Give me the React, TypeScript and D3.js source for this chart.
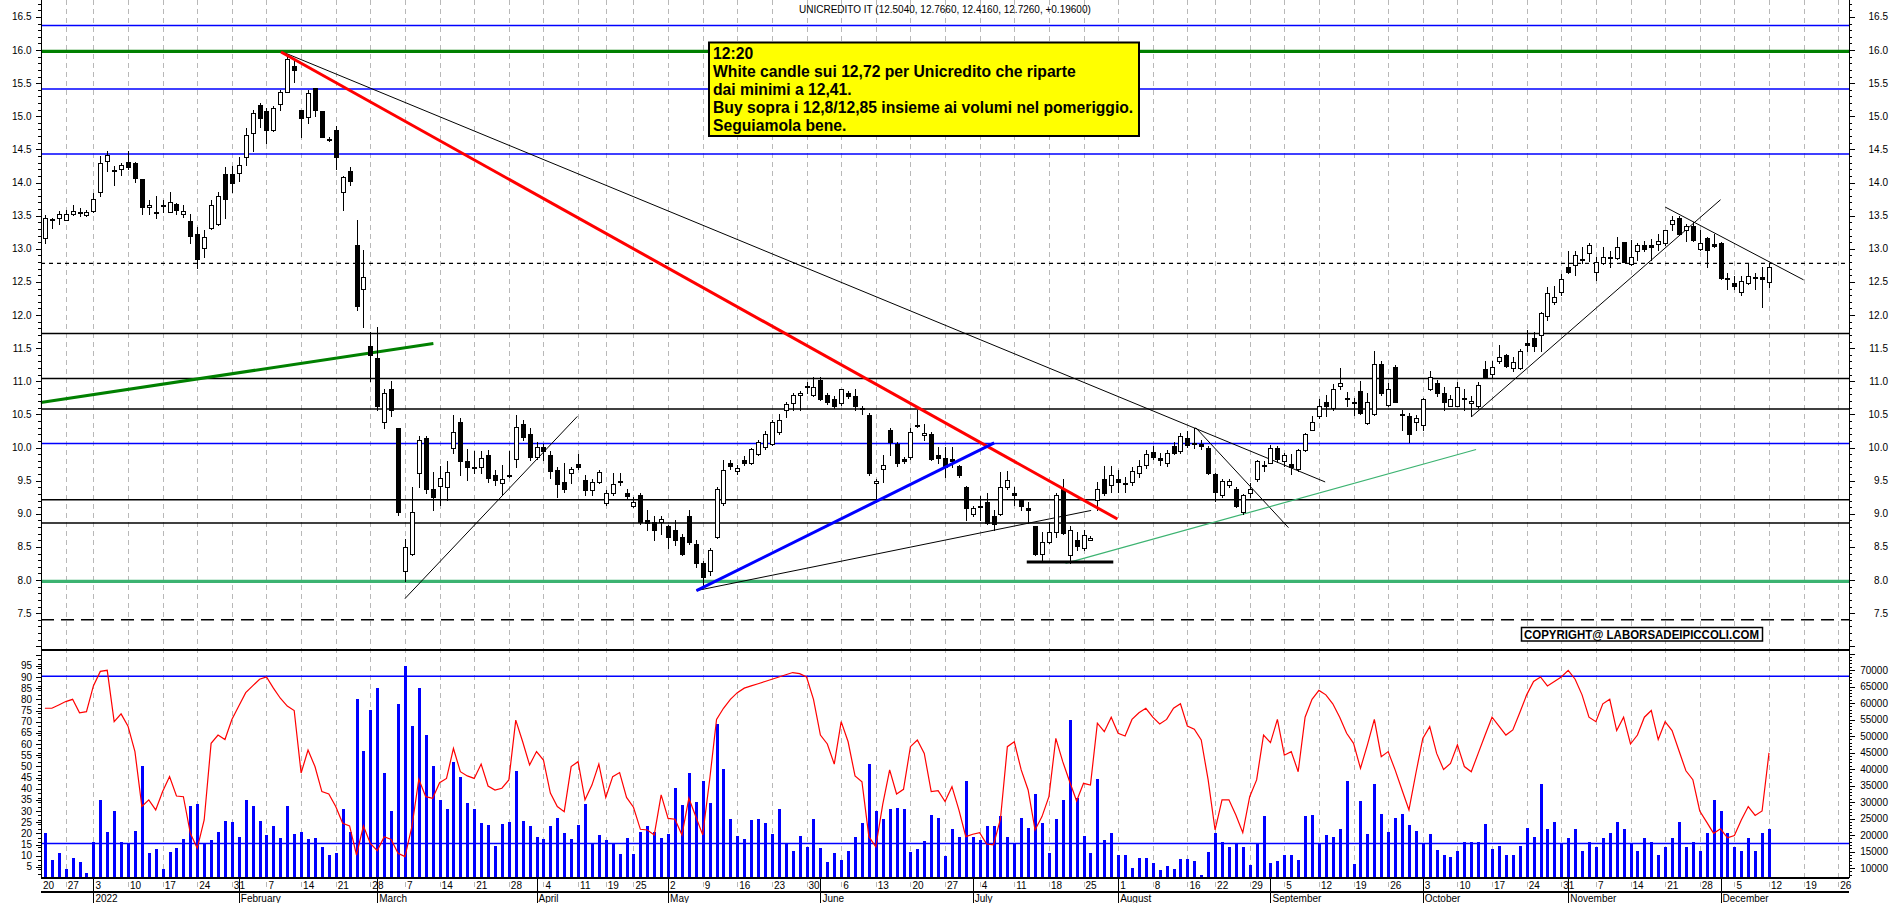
import React, { useEffect, useRef } from 'react'
import * as d3 from 'd3'

const title = 'UNICREDITO IT (12.5040, 12.7660, 12.4160, 12.7260, +0.19600)'
const noteLines = [
    '12:20',
    'White candle sui 12,72 per Unicredito che riparte',
    'dai minimi a 12,41.',
    'Buy sopra i 12,8/12,85 insieme ai volumi nel pomeriggio.',
    'Seguiamola bene.',
]
const copyright = 'COPYRIGHT@ LABORSADEIPICCOLI.COM'

// trading calendar (Borsa Italiana)
const calendarFrom = '2021-12-20'
const calendarTo = '2022-12-30'
const dataFrom = '2021-12-21'
const holidays = ['2021-12-24', '2021-12-31', '2022-04-15', '2022-04-18', '2022-08-15']

// daily candles from 2021-12-21 to 2022-12-12: open, high, low, close
const ohlc: [number, number, number, number][] = [
    [13.16, 13.51, 13.09, 13.46], [13.44, 13.47, 13.31, 13.45], [13.46, 13.57, 13.38, 13.52], [13.44, 13.59, 13.43, 13.53], [13.53, 13.66, 13.51, 13.57],
    [13.55, 13.62, 13.50, 13.56], [13.51, 13.59, 13.50, 13.55], [13.57, 13.84, 13.56, 13.75], [13.86, 14.40, 13.79, 14.29], [14.32, 14.48, 14.18, 14.42],
    [14.18, 14.25, 13.96, 14.19], [14.20, 14.30, 14.11, 14.27], [14.31, 14.47, 14.21, 14.24], [14.29, 14.31, 14.01, 14.07], [14.05, 14.06, 13.53, 13.63],
    [13.63, 13.73, 13.53, 13.66], [13.55, 13.79, 13.47, 13.56], [13.65, 13.73, 13.56, 13.66], [13.56, 13.85, 13.55, 13.71], [13.68, 13.69, 13.53, 13.59],
    [13.53, 13.66, 13.48, 13.57], [13.42, 13.53, 13.08, 13.20], [13.23, 13.33, 12.71, 12.85], [13.01, 13.29, 12.88, 13.18], [13.31, 13.74, 13.30, 13.66],
    [13.38, 13.86, 13.36, 13.80], [14.13, 14.24, 13.47, 13.75], [14.13, 14.25, 13.85, 14.00], [14.14, 14.39, 14.03, 14.26], [14.38, 14.82, 14.26, 14.72],
    [14.75, 15.09, 14.47, 15.05], [15.17, 15.20, 14.84, 14.98], [15.08, 15.12, 14.60, 14.79], [14.79, 15.16, 14.78, 15.13], [15.18, 15.40, 15.10, 15.37],
    [15.37, 15.92, 15.36, 15.86], [15.76, 15.87, 15.51, 15.70], [15.09, 15.10, 14.69, 14.97], [14.99, 15.40, 14.90, 15.35], [15.42, 15.43, 15.00, 15.10],
    [15.08, 15.08, 14.68, 14.69], [14.64, 14.69, 14.62, 14.65], [14.79, 14.85, 14.20, 14.38], [13.86, 14.10, 13.58, 14.08], [14.17, 14.24, 13.96, 14.03],
    [13.06, 13.44, 12.08, 12.13], [12.40, 12.98, 11.82, 12.58], [11.53, 11.75, 11.00, 11.40], [11.35, 11.82, 10.57, 10.62], [10.38, 10.89, 10.29, 10.83],
    [10.89, 11.00, 10.47, 10.56], [10.29, 10.30, 8.98, 9.02], [8.14, 8.62, 7.98, 8.50], [8.40, 9.41, 8.38, 9.02], [9.61, 10.17, 9.41, 10.12],
    [10.14, 10.18, 9.31, 9.38], [9.38, 9.63, 9.06, 9.25], [9.42, 9.72, 9.13, 9.54], [9.41, 9.79, 9.21, 9.63], [9.99, 10.49, 9.91, 10.24],
    [10.38, 10.44, 9.59, 9.79], [9.79, 9.97, 9.51, 9.71], [9.69, 9.94, 9.61, 9.70], [9.71, 9.94, 9.61, 9.84], [9.89, 9.96, 9.48, 9.54],
    [9.59, 9.66, 9.43, 9.51], [9.47, 9.73, 9.28, 9.52], [9.58, 9.95, 9.55, 9.59], [9.82, 10.49, 9.70, 10.31], [10.35, 10.42, 10.11, 10.16],
    [10.20, 10.29, 9.81, 9.86], [9.86, 10.09, 9.82, 10.01], [10.01, 10.06, 9.81, 9.95], [9.89, 9.94, 9.54, 9.65], [9.66, 9.71, 9.26, 9.45],
    [9.48, 9.76, 9.33, 9.38], [9.61, 9.71, 9.46, 9.68], [9.75, 9.90, 9.67, 9.71], [9.51, 9.59, 9.28, 9.36], [9.36, 9.53, 9.28, 9.48],
    [9.48, 9.66, 9.46, 9.63], [9.16, 9.36, 9.13, 9.31], [9.31, 9.61, 9.28, 9.45], [9.48, 9.61, 9.43, 9.49], [9.32, 9.38, 9.23, 9.27],
    [9.12, 9.26, 9.10, 9.18], [9.28, 9.31, 8.85, 8.87], [8.91, 9.06, 8.75, 8.86], [8.88, 8.96, 8.61, 8.75], [8.87, 8.97, 8.69, 8.92],
    [8.82, 8.83, 8.48, 8.65], [8.75, 8.91, 8.53, 8.60], [8.65, 8.70, 8.38, 8.40], [8.97, 9.06, 8.55, 8.58], [8.54, 8.61, 8.20, 8.25],
    [8.26, 8.28, 7.88, 8.04], [8.13, 8.48, 8.08, 8.46], [8.65, 9.41, 8.64, 9.38], [9.16, 9.81, 9.13, 9.66], [9.77, 9.81, 9.68, 9.72],
    [9.65, 9.74, 9.60, 9.69], [9.81, 9.87, 9.74, 9.77], [9.77, 10.00, 9.75, 9.97], [9.90, 10.12, 9.88, 10.09], [10.01, 10.25, 9.98, 10.21],
    [10.06, 10.41, 10.04, 10.38], [10.24, 10.50, 10.20, 10.42], [10.57, 10.69, 10.46, 10.66], [10.67, 10.82, 10.57, 10.79], [10.79, 10.86, 10.57, 10.82],
    [10.93, 10.99, 10.82, 10.92], [10.79, 11.07, 10.78, 10.91], [11.02, 11.06, 10.72, 10.73], [10.79, 10.82, 10.66, 10.69], [10.73, 10.77, 10.59, 10.62],
    [10.67, 10.89, 10.64, 10.88], [10.82, 10.85, 10.74, 10.78], [10.78, 10.89, 10.57, 10.62], [10.60, 10.62, 10.51, 10.58], [10.49, 10.52, 9.59, 9.61],
    [9.46, 9.52, 9.18, 9.50], [9.67, 9.89, 9.48, 9.73], [10.27, 10.29, 9.89, 10.09], [10.06, 10.09, 9.72, 9.77], [9.82, 9.86, 9.76, 9.80],
    [9.86, 10.29, 9.82, 10.24], [10.34, 10.57, 10.31, 10.33], [10.19, 10.36, 10.11, 10.22], [10.20, 10.23, 9.81, 9.82], [9.89, 10.01, 9.76, 9.84],
    [9.84, 10.01, 9.56, 9.71], [9.82, 10.01, 9.71, 9.79], [9.72, 9.73, 9.56, 9.58], [9.41, 9.42, 8.90, 9.08], [8.99, 9.12, 8.96, 9.08],
    [9.12, 9.27, 8.90, 9.11], [9.17, 9.31, 8.84, 8.86], [8.97, 9.06, 8.76, 8.85], [9.00, 9.63, 8.98, 9.41], [9.41, 9.65, 9.38, 9.51],
    [9.31, 9.41, 9.13, 9.28], [9.22, 9.23, 9.06, 9.11], [9.08, 9.18, 8.86, 9.06], [8.81, 8.81, 8.38, 8.40], [8.40, 8.72, 8.28, 8.58],
    [8.58, 8.87, 8.56, 8.73], [8.73, 9.31, 8.65, 9.28], [9.37, 9.53, 8.70, 8.71], [8.38, 8.81, 8.26, 8.75], [8.61, 8.73, 8.45, 8.51],
    [8.48, 8.75, 8.45, 8.68], [8.61, 8.66, 8.60, 8.64], [9.21, 9.48, 9.06, 9.38], [9.52, 9.72, 9.28, 9.31], [9.43, 9.72, 9.33, 9.58],
    [9.52, 9.66, 9.33, 9.48], [9.45, 9.56, 9.33, 9.46], [9.48, 9.71, 9.43, 9.64], [9.62, 9.81, 9.56, 9.72], [9.73, 9.96, 9.69, 9.90],
    [9.93, 10.02, 9.82, 9.86], [9.84, 9.91, 9.74, 9.81], [9.76, 9.96, 9.72, 9.92], [10.02, 10.09, 9.90, 9.92], [9.94, 10.22, 9.92, 10.17],
    [10.15, 10.25, 10.01, 10.04], [10.07, 10.30, 10.00, 10.05], [10.06, 10.12, 9.98, 10.02], [10.00, 10.02, 9.60, 9.62], [9.60, 9.62, 9.20, 9.33],
    [9.28, 9.53, 9.25, 9.50], [9.43, 9.52, 9.40, 9.49], [9.37, 9.41, 9.10, 9.12], [9.03, 9.30, 9.00, 9.28], [9.31, 9.46, 9.25, 9.38],
    [9.52, 9.81, 9.49, 9.80], [9.72, 9.79, 9.65, 9.73], [9.77, 10.04, 9.76, 9.99], [9.99, 10.02, 9.78, 9.82], [9.80, 9.92, 9.72, 9.88],
    [9.75, 9.90, 9.60, 9.70], [9.68, 9.98, 9.65, 9.96], [9.96, 10.22, 9.94, 10.20], [10.27, 10.47, 10.26, 10.39], [10.47, 10.73, 10.45, 10.62],
    [10.68, 10.79, 10.47, 10.62], [10.59, 10.96, 10.57, 10.88], [10.93, 11.20, 10.88, 10.97], [10.75, 10.84, 10.63, 10.73], [10.67, 10.74, 10.49, 10.68],
    [10.85, 11.01, 10.51, 10.52], [10.37, 10.82, 10.36, 10.68], [10.50, 11.46, 10.49, 11.26], [11.26, 11.31, 10.79, 10.82], [10.64, 10.97, 10.62, 10.88],
    [11.22, 11.25, 10.68, 10.69], [10.49, 10.57, 10.26, 10.50], [10.47, 10.52, 10.09, 10.21], [10.39, 10.49, 10.26, 10.45], [10.34, 10.74, 10.27, 10.73],
    [10.88, 11.15, 10.87, 11.07], [10.97, 11.02, 10.77, 10.83], [10.83, 10.91, 10.57, 10.68], [10.63, 10.79, 10.62, 10.73], [10.63, 10.99, 10.62, 10.91],
    [10.75, 10.89, 10.57, 10.73], [10.67, 10.77, 10.48, 10.70], [10.63, 10.99, 10.59, 10.94], [11.18, 11.30, 11.05, 11.06], [11.11, 11.30, 11.07, 11.21],
    [11.30, 11.55, 11.27, 11.36], [11.39, 11.41, 11.22, 11.23], [11.20, 11.37, 11.15, 11.29], [11.20, 11.48, 11.18, 11.46], [11.57, 11.77, 11.45, 11.55],
    [11.65, 11.75, 11.45, 11.53], [11.70, 12.05, 11.45, 12.03], [11.98, 12.43, 11.92, 12.33], [12.20, 12.44, 12.17, 12.27], [12.34, 12.62, 12.30, 12.55],
    [12.73, 12.97, 12.64, 12.65], [12.76, 12.97, 12.60, 12.90], [12.83, 13.02, 12.78, 12.84], [12.93, 13.09, 12.82, 13.05], [12.65, 12.88, 12.53, 12.80],
    [12.78, 13.02, 12.77, 12.88], [12.86, 12.97, 12.73, 12.87], [12.86, 13.17, 12.84, 13.03], [13.10, 13.10, 12.80, 12.80], [12.77, 13.13, 12.76, 12.88],
    [12.97, 13.09, 12.83, 13.06], [13.05, 13.12, 12.97, 13.00], [13.06, 13.14, 12.83, 13.03], [13.07, 13.22, 12.98, 13.11], [13.09, 13.29, 13.06, 13.28],
    [13.37, 13.49, 13.28, 13.44], [13.46, 13.49, 13.22, 13.23], [13.28, 13.37, 13.12, 13.34], [13.34, 13.41, 13.12, 13.13], [13.00, 13.28, 12.98, 13.09],
    [13.16, 13.17, 12.73, 12.98], [13.07, 13.23, 13.03, 13.04], [13.08, 13.10, 12.54, 12.56], [12.56, 12.63, 12.40, 12.54], [12.48, 12.59, 12.40, 12.44],
    [12.35, 12.59, 12.30, 12.51], [12.48, 12.78, 12.47, 12.59], [12.57, 12.64, 12.40, 12.58], [12.57, 12.73, 12.12, 12.54], [12.504, 12.766, 12.416, 12.726],
]

// daily volume, thousands of shares
const volumes = [
    20.5, 12.4, 14.4, 9.7, 13.1, 11.7, 8.4, 17.8, 30.7, 20.9,
    27.3, 17.8, 17.5, 21.2, 40.9, 14.4, 15.8, 9.7, 14.8, 16.1,
    18.8, 28.7, 29.3, 17.5, 18.5, 20.9, 24.3, 23.9, 19.5, 30.7,
    28.7, 24.3, 19.9, 22.6, 19.2, 28.7, 20.2, 20.9, 18.8, 19.2,
    16.5, 13.8, 14.4, 28.0, 20.9, 61.2, 45.6, 57.8, 64.5, 38.8,
    27.3, 59.8, 71.3, 53.0, 64.5, 50.3, 40.9, 30.7, 28.0, 42.2,
    37.5, 29.7, 28.0, 23.6, 22.9, 16.8, 23.2, 23.9, 39.5, 24.3,
    22.6, 19.5, 18.8, 22.6, 25.3, 20.5, 18.8, 22.9, 29.3, 17.5,
    19.9, 18.5, 17.5, 14.1, 19.2, 14.1, 20.9, 22.6, 20.9, 19.2,
    20.2, 34.1, 29.0, 38.8, 30.0, 36.3, 29.7, 53.6, 39.9, 24.8,
    19.7, 18.9, 24.5, 24.8, 23.6, 20.2, 27.9, 17.4, 15.3, 19.7,
    16.4, 24.8, 16.1, 11.7, 14.4, 12.3, 15.3, 19.4, 23.6, 41.5,
    27.4, 24.8, 27.9, 28.2, 27.9, 14.8, 15.9, 18.2, 26.2, 25.1,
    13.6, 21.8, 19.5, 36.3, 19.4, 18.5, 22.6, 22.8, 25.7, 19.4,
    17.6, 25.1, 22.1, 32.3, 23.6, 14.6, 25.0, 30.5, 54.8, 31.2,
    19.7, 14.6, 37.1, 18.4, 20.7, 13.8, 13.8, 10.0, 13.0, 13.0,
    11.5, 9.4, 10.5, 9.8, 12.8, 12.6, 12.0, 7.9, 14.8, 20.7,
    18.0, 16.4, 17.6, 16.4, 11.0, 17.6, 25.9, 11.5, 12.0, 14.0,
    13.8, 12.3, 25.9, 26.1, 17.6, 19.9, 19.5, 21.8, 36.3, 11.3,
    30.2, 20.2, 35.6, 26.4, 20.9, 25.3, 26.4, 23.0, 21.2, 17.6,
    20.4, 15.6, 13.8, 13.4, 15.1, 18.0, 18.0, 18.0, 23.3, 15.9,
    16.6, 14.0, 14.0, 16.8, 22.0, 19.4, 35.4, 21.9, 23.9, 17.2,
    19.2, 21.9, 15.1, 17.8, 16.5, 19.2, 20.5, 23.9, 21.9, 17.2,
    15.1, 19.2, 17.8, 13.8, 16.5, 19.2, 23.9, 16.5, 17.8, 15.1,
    20.5, 30.7, 27.3, 20.5, 16.5, 15.1, 19.2, 15.1, 20.5, 21.9,
]

// oscillator (left scale of the lower panel)
const oscillator = [
    76, 76, 77.5, 79, 80, 74, 74.5, 86, 92.5, 93,
    70, 73.5, 68, 56.6, 32, 35, 30.5, 38.7, 45.4, 36.7,
    36.4, 20, 13.3, 26, 60.3, 64, 62, 71, 77, 83,
    86, 89, 90, 85, 80.5, 77, 75, 47, 57.3, 49.9,
    38.7, 37.6, 32, 24.5, 23.3, 10.3, 23.3, 15.5, 12.2, 18.5,
    17.3, 11.1, 9.6, 23, 44.2, 36.4, 35.7, 42.7, 44.6, 58,
    47.6, 45.7, 44.6, 51, 41.2, 39.4, 40.2, 43.9, 70.7, 61,
    50.6, 56.6, 52.8, 38, 32, 29.7, 49.9, 52.1, 35, 41.6,
    51, 36.1, 45.4, 47.2, 36.1, 31.7, 21.8, 21.5, 19.3, 37.2,
    26.7, 26.3, 19.3, 35.7, 27.5, 19.3, 43.9, 71, 76, 80,
    83, 85, 86, 87, 88, 89, 90, 91, 92, 91.5,
    90, 80, 64, 60, 51, 70, 61, 45.7, 43.1, 18.5,
    14, 33, 48.4, 37.6, 39.7, 58.8, 61.8, 55.8, 38.7, 39.1,
    34.2, 40.9, 30.5, 18.5, 19.6, 20.3, 15.2, 14.8, 26.3, 58.8,
    61, 48.4, 39.4, 21.5, 27.5, 36.4, 62.5, 52.1, 43.1, 34.5,
    42.4, 41.6, 69.3, 65.5, 72, 64.8, 63.6, 71, 74, 76,
    72, 69, 71, 76, 78, 68, 66.6, 61.8, 43.9, 21.5,
    35, 35, 28.2, 20.3, 36.4, 43.9, 64, 60.6, 71, 55,
    56.6, 47.6, 72, 80, 84, 82, 78, 72, 64.8, 60.3,
    49.1, 59.6, 71, 54.3, 56.6, 48.4, 39.4, 30.5, 46.9, 62.5,
    67.8, 55.8, 48.6, 51.3, 59.6, 49.9, 47.6, 55.8, 64, 72,
    68, 64, 66.3, 74, 82, 88, 90, 86, 88, 90,
    93, 89, 82, 72, 70, 78, 80, 66, 72, 60,
    64, 72, 75, 62, 70, 66, 57, 48, 44, 30,
    25, 20, 22, 18, 19, 26, 32, 28, 30, 56,
]

// horizontal levels
const blueLevels = [16.37, 15.41, 14.43, 10.06]
const greenLevel = 15.98
const blackLevels = [11.72, 11.04, 10.58, 9.21, 8.86]
const supportLevel = 7.98
const dottedLevel = 12.78
const dashedLevel = 7.40
const oscLevels = [90.3, 15.5]

// trend lines: [day index, price, day index, price]
type Seg = [number, number, number, number]
const redTrend: Seg[] = [[35.1, 15.97, 155.9, 8.92]]
const greenTrend: Seg[] = [[0.4, 10.68, 57.1, 11.57]]
const blueTrend: Seg[] = [[95.1, 7.84, 138.1, 10.07]]
const lightGreenTrend: Seg[] = [[148.4, 8.25, 207.7, 9.97]]
const baseTrend: Seg[] = [[142.8, 8.27, 155.3, 8.27]]
const thinTrend: Seg[] = [
    [35.8, 15.95, 185.9, 9.48],
    [53.0, 7.72, 77.9, 10.47],
    [95.1, 7.84, 152.1, 9.05],
    [167.2, 10.30, 180.6, 8.79],
    [207.1, 10.47, 243.0, 13.74],
    [235.0, 13.63, 255.0, 12.53],
]

const priceTicks = [7.5, 8, 8.5, 9, 9.5, 10, 10.5, 11, 11.5, 12, 12.5, 13, 13.5, 14, 14.5, 15, 15.5, 16, 16.5]
const oscTicks = [5, 10, 15, 20, 25, 30, 35, 40, 45, 50, 55, 60, 65, 70, 75, 80, 85, 90, 95]
const volTicks = [10, 15, 20, 25, 30, 35, 40, 45, 50, 55, 60, 65, 70]

const font = 'Liberation Sans, Arial, Helvetica, sans-serif'

function draw(el: SVGSVGElement) {
    const svg = d3.select(el)
    svg.selectAll('*').remove()

    const left = 41, right = 1849, panelSplit = 650, bottom = 878, rowLine = 892

    const parse = d3.timeParse('%Y-%m-%d')
    const fmt = d3.timeFormat('%Y-%m-%d')
    const days = d3.timeDay.range(parse(calendarFrom) as Date, d3.timeDay.offset(parse(calendarTo) as Date, 1))
        .filter(d => d.getDay() !== 0 && d.getDay() !== 6 && !holidays.includes(fmt(d)))
    const first = days.findIndex(d => fmt(d) === dataFrom)

    const x = d3.scaleLinear().domain([0, 250]).range([38, 1769])
    const y = d3.scaleLinear().domain([8, 16]).range([580, 50])
    const yOsc = d3.scaleLinear().domain([0, 90]).range([878, 677])
    const yVol = d3.scaleLinear().domain([10, 70]).range([868, 670])

    svg.append('rect').attr('width', 1890).attr('height', 903).attr('fill', '#ffffff')

    const idx = days.map((d, i) => i)
    const weekIdx = idx.filter(i => i === 0 || +d3.timeMonday.floor(days[i]) !== +d3.timeMonday.floor(days[i - 1]))
    const monthIdx = idx.filter(i => i > 0 && days[i].getMonth() !== days[i - 1].getMonth())
    const px = (i: number) => Math.round(x(i)) + 0.5

    // weekly dashed grid
    svg.append('g')
        .selectAll('line')
        .data(weekIdx.filter(i => x(i) > left + 2 && x(i) < right - 2))
        .enter()
        .append('line')
        .attr('x1', px).attr('x2', px)
        .attr('y1', 0).attr('y2', rowLine)
        .attr('stroke', '#b8b8b8')
        .attr('stroke-dasharray', '5,4')

    // price panel horizontal levels
    const hline = (g: any, p: number, color: string, w: number, dash?: string) => {
        const ln = g.append('line')
            .attr('x1', left).attr('x2', right)
            .attr('y1', y(p)).attr('y2', y(p))
            .attr('stroke', color).attr('stroke-width', w)
        if (dash) ln.attr('stroke-dasharray', dash)
    }
    const levels = svg.append('g')
    blueLevels.forEach(p => hline(levels, p, '#0000ff', 1.5))
    blackLevels.forEach(p => hline(levels, p, '#000000', 1.5))
    hline(levels, greenLevel, '#008000', 3.2)
    hline(levels, supportLevel, '#3cb371', 3.2)
    hline(levels, dottedLevel, '#000000', 1.2, '4,4')
    hline(levels, dashedLevel, '#000000', 1.6, '13,7')

    // trend lines
    const segs = (data: Seg[], color: string, w: number) => {
        svg.append('g')
            .selectAll('line')
            .data(data)
            .enter()
            .append('line')
            .attr('x1', (d: Seg) => x(d[0])).attr('y1', (d: Seg) => y(d[1]))
            .attr('x2', (d: Seg) => x(d[2])).attr('y2', (d: Seg) => y(d[3]))
            .attr('stroke', color).attr('stroke-width', w)
    }
    segs(thinTrend, '#000000', 1)
    segs(lightGreenTrend, '#3cb371', 1.2)
    segs(greenTrend, '#008000', 3)
    segs(baseTrend, '#000000', 3)

    // candles
    const candles = svg.append('g').attr('shape-rendering', 'crispEdges')
    ohlc.forEach((c, k) => {
        const i = first + k
        const [o, h, l, cl] = c
        const X = Math.round(x(i)) - 2
        candles.append('line')
            .attr('x1', X + 2.5).attr('x2', X + 2.5)
            .attr('y1', Math.round(y(h))).attr('y2', Math.round(y(l)) + 1)
            .attr('stroke', '#000')
        const top = Math.round(y(Math.max(o, cl)))
        const bot = Math.round(y(Math.min(o, cl)))
        candles.append('rect')
            .attr('x', X + 0.5).attr('y', top + 0.5)
            .attr('width', 4).attr('height', Math.max(1, bot - top))
            .attr('fill', cl >= o ? '#ffffff' : '#000000')
            .attr('stroke', '#000')
    })

    segs(redTrend, '#ff0000', 3)
    segs(blueTrend, '#0000ff', 3)

    // volume bars
    svg.append('g')
        .attr('shape-rendering', 'crispEdges')
        .selectAll('rect')
        .data(volumes)
        .enter()
        .append('rect')
        .attr('x', (v: number, k: number) => Math.round(x(first + k)) - 1)
        .attr('y', (v: number) => Math.round(yVol(v)))
        .attr('width', 3)
        .attr('height', (v: number) => bottom - Math.round(yVol(v)))
        .attr('fill', '#0000ff')

    oscLevels.forEach(v => {
        svg.append('line')
            .attr('x1', left).attr('x2', right)
            .attr('y1', yOsc(v)).attr('y2', yOsc(v))
            .attr('stroke', '#0000ff').attr('stroke-width', 1.5)
    })

    const line = d3.line<number>()
        .x((v, k) => x(first + k))
        .y(v => yOsc(v))
    svg.append('path')
        .datum(oscillator)
        .attr('d', line)
        .attr('fill', 'none')
        .attr('stroke', '#ff0000')
        .attr('stroke-width', 1.2)

    // frame
    const frame = svg.append('g').attr('stroke', '#000').attr('shape-rendering', 'crispEdges')
    frame.append('line').attr('x1', left).attr('x2', left).attr('y1', 0).attr('y2', bottom)
    frame.append('line').attr('x1', right).attr('x2', right).attr('y1', 0).attr('y2', bottom)
    frame.append('line').attr('x1', left).attr('x2', right).attr('y1', panelSplit).attr('y2', panelSplit).attr('stroke-width', 1.5)
    frame.append('line').attr('x1', left).attr('x2', right).attr('y1', bottom).attr('y2', bottom).attr('stroke-width', 1.5)
    frame.append('line').attr('x1', left).attr('x2', right).attr('y1', rowLine).attr('y2', rowLine).attr('stroke-width', 1.5)
    monthIdx.filter(i => x(i) < right).forEach(i => {
        frame.append('line').attr('x1', px(i)).attr('x2', px(i)).attr('y1', bottom).attr('y2', 903)
    })

    // axis ticks
    const ticks = svg.append('g').attr('stroke', '#000').attr('shape-rendering', 'crispEdges')
    d3.range(70, 168).forEach(t => {
        const p = t / 10
        const yy = Math.round(y(p)) + 0.5
        if (yy < 0 || yy > panelSplit - 2) return
        const major = t % 5 === 0
        ticks.append('line').attr('x1', left - (major ? 5 : 3)).attr('x2', left).attr('y1', yy).attr('y2', yy)
        ticks.append('line').attr('x1', right).attr('x2', right + (major ? 6 : 3)).attr('y1', yy).attr('y2', yy)
    })
    d3.range(1, 102).forEach(v => {
        const yy = Math.round(yOsc(v)) + 0.5
        if (yy < panelSplit + 2) return
        const major = v % 5 === 0
        if (major || v % 2 === 0) ticks.append('line').attr('x1', left - (major ? 5 : 3)).attr('x2', left).attr('y1', yy).attr('y2', yy)
    })
    d3.range(8, 77).forEach(v => {
        const yy = Math.round(yVol(v)) + 0.5
        if (yy < panelSplit + 2 || yy > bottom) return
        const major = v % 5 === 0
        ticks.append('line').attr('x1', right).attr('x2', right + (major ? 6 : 3)).attr('y1', yy).attr('y2', yy)
    })

    // labels
    const label = (g: any, tx: number, ty: number, s: string, anchor: string) =>
        g.append('text')
            .attr('x', tx).attr('y', ty)
            .attr('text-anchor', anchor)
            .attr('dominant-baseline', 'central')
            .text(s)
    const labels = svg.append('g').style('font-family', font).style('font-size', '10px').attr('fill', '#000')
    priceTicks.forEach(p => {
        label(labels, 31.5, y(p), p.toFixed(1), 'end')
        label(labels, 1888, y(p), p.toFixed(1), 'end')
    })
    oscTicks.forEach(v => label(labels, 32, yOsc(v), String(v), 'end'))
    volTicks.forEach(v => label(labels, 1888, yVol(v), String(v * 1000), 'end'))

    weekIdx.filter(i => x(i) < right - 4).forEach(i => {
        label(labels, Math.max(x(i), left) + 2, 885, String(days[i].getDate()), 'start')
    })
    monthIdx.filter(i => x(i) < right - 4).forEach(i => {
        const s = days[i].getMonth() === 0 ? String(days[i].getFullYear()) : d3.timeFormat('%B')(days[i])
        labels.append('text').attr('x', x(i) + 2).attr('y', 902).text(s)
    })

    // title
    svg.append('text')
        .attr('x', 799).attr('y', 12.5)
        .style('font-family', font).style('font-size', '10px')
        .text(title)

    // note box
    const note = svg.append('g')
    note.append('rect')
        .attr('x', 709).attr('y', 42.5).attr('width', 430).attr('height', 93.5)
        .attr('fill', '#ffff00').attr('stroke', '#000').attr('stroke-width', 2)
    note.selectAll('text')
        .data(noteLines)
        .enter()
        .append('text')
        .attr('x', 713)
        .attr('y', (d: string, i: number) => 58.5 + i * 18)
        .style('font-family', font).style('font-size', '15.7px').style('font-weight', 'bold')
        .text((d: string) => d)

    // copyright
    svg.append('rect')
        .attr('x', 1521.5).attr('y', 627.5).attr('width', 241).attr('height', 13.5)
        .attr('fill', '#fff').attr('stroke', '#000').attr('stroke-width', 1.5)
    svg.append('text')
        .attr('x', 1524).attr('y', 638.5)
        .attr('textLength', 235).attr('lengthAdjust', 'spacingAndGlyphs')
        .style('font-family', font).style('font-size', '12px').style('font-weight', 'bold')
        .text(copyright)
}

export default function App() {
    const ref = useRef<SVGSVGElement>(null)

    useEffect(() => {
        if (ref.current) draw(ref.current)
    }, [])

    return (
        <svg ref={ref} width={1890} height={903}
            style={{ position: 'absolute', left: 0, top: 0, background: '#fff' }} />
    )
}
